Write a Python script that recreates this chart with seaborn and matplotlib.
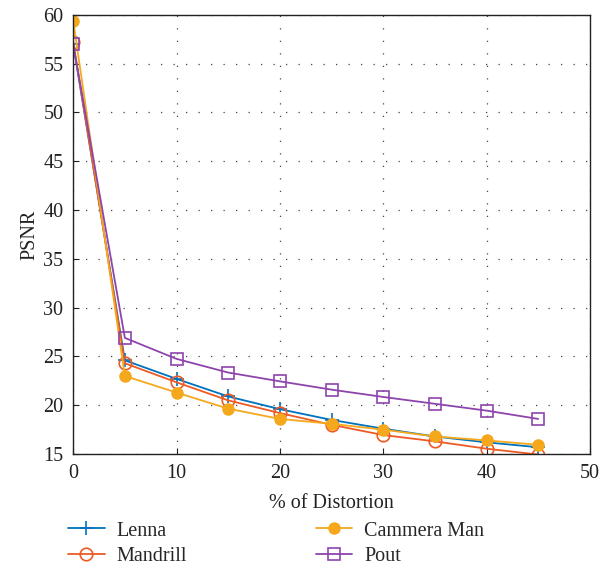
import matplotlib
matplotlib.use("Agg")
import matplotlib.pyplot as plt
import seaborn as sns
import pandas as pd

distortion = [0, 5, 10, 15, 20, 25, 30, 35, 40, 45]
lenna = [57.0, 24.6, 22.7, 20.9, 19.6, 18.5, 17.6, 16.8, 16.2, 15.7]
mandrill = [57.2, 24.3, 22.35, 20.5, 19.2, 18.0, 16.95, 16.3, 15.55, 14.95]
cammera_man = [59.4, 23.0, 21.3, 19.65, 18.6, 18.1, 17.5, 16.8, 16.4, 15.95]
pout = [57.0, 26.9, 24.75, 23.35, 22.45, 21.6, 20.85, 20.15, 19.45, 18.6]

series_names = ["Lenna", "Mandrill", "Cammera Man", "Pout"]
series_values = [lenna, mandrill, cammera_man, pout]

colors = {"Lenna": "#0072BD", "Mandrill": "#EE5A24",
          "Cammera Man": "#F5A81C", "Pout": "#8E44AD"}
marker_style = {
    "Lenna": dict(marker="+", markersize=10, markeredgewidth=1.2),
    "Mandrill": dict(marker="o", markersize=9, markerfacecolor="none", markeredgewidth=1.2),
    "Cammera Man": dict(marker="o", markersize=8, markeredgewidth=1.0),
    "Pout": dict(marker="s", markersize=8, markerfacecolor="none", markeredgewidth=1.2),
}

frames = [pd.DataFrame({"x": distortion, "y": v, "name": n})
          for n, v in zip(series_names, series_values)]
df = pd.concat(frames, ignore_index=True)

sns.set_style("ticks")
plt.rcParams["font.family"] = ["Liberation Serif", "DejaVu Serif"]

fig = plt.figure(figsize=(6.1, 5.69), dpi=100)
ax = fig.add_axes([0.12, 0.202, 0.847, 0.772])

for name in series_names:
    sub = df[df["name"] == name]
    sns.lineplot(data=sub, x="x", y="y", ax=ax, color=colors[name],
                 linewidth=1.3, label=name, markeredgecolor=colors[name],
                 **marker_style[name])

ax.set_xlim(0, 50)
ax.set_ylim(15, 60)
ax.set_xticks(range(0, 51, 10))
ax.set_yticks(range(15, 61, 5))
ax.grid(True, linestyle=(0, (1, 9)), color="#444444", linewidth=0.9)
ax.tick_params(direction="in", length=4, labelsize=14.5, colors="#222222", pad=7)
for sp in ax.spines.values():
    sp.set_linewidth(1.0)
    sp.set_color("#222222")

ax.set_xlabel("% of Distortion", fontsize=14.5, color="#222222", labelpad=8)
ax.set_ylabel("PSNR", fontsize=14.5, color="#222222", labelpad=3)

handles, labels = ax.get_legend_handles_labels()
ax.legend(handles, labels, ncol=2, loc="upper left",
          bbox_to_anchor=(-0.025, -0.135), frameon=False, fontsize=14.5,
          columnspacing=6.4, handlelength=1.8, labelspacing=0.3,
          handletextpad=0.6, borderaxespad=0)

fig.savefig("out.png", dpi=100)
